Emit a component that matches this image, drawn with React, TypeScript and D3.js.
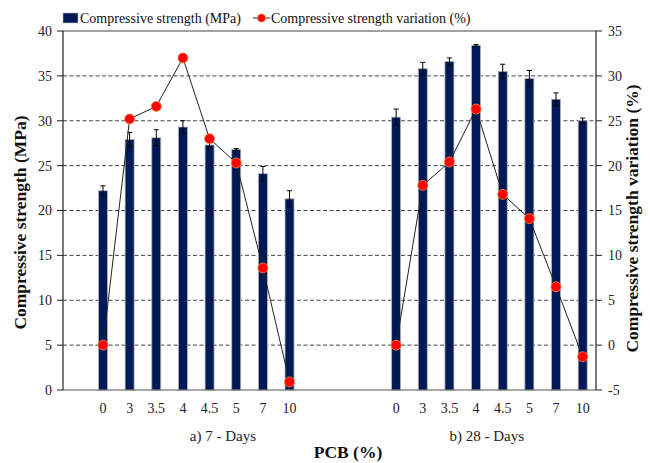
import React from "react";
import * as d3 from "d3";

const categories = ["0", "3", "3.5", "4", "4.5", "5", "7", "10"];
const groupLabels = ["a) 7 - Days", "b) 28 - Days"];
const strength7 = [22.2, 27.9, 28.1, 29.3, 27.3, 26.8, 24.1, 21.3];
const err7 = [0.55, 0.8, 0.9, 0.7, 0.3, 0.1, 0.8, 0.9];
const variation7 = [0, 25.2, 26.6, 32.0, 23.0, 20.3, 8.6, -4.1];
const strength28 = [30.4, 35.8, 36.6, 38.4, 35.5, 34.7, 32.4, 30.0];
const err28 = [0.9, 0.7, 0.4, 0.1, 0.8, 0.9, 0.7, 0.3];
const variation28 = [0, 17.8, 20.4, 26.3, 16.8, 14.1, 6.5, -1.3];
const leftTicks = [0, 5, 10, 15, 20, 25, 30, 35, 40];
const rightTicks = [-5, 0, 5, 10, 15, 20, 25, 30, 35];

const W = 650, H = 463;
const L = 63, R = 596, T = 31, B = 390;
const FONT = "Liberation Serif, Times New Roman, Times, serif";
const BAR = "#001a57";

export default function App() {
  const x = d3.scaleLinear().domain([-1.5, 18.5]).range([L, R]);
  const yL = d3.scaleLinear().domain([0, 40]).range([B, T]);
  const yR = d3.scaleLinear().domain([-5, 35]).range([B, T]);
  const groups = [
    { off: 0, s: strength7, e: err7, v: variation7, labelPos: 4.5 },
    { off: 11, s: strength28, e: err28, v: variation28, labelPos: 14.4 },
  ];
  const bw = 9;
  const ts = { fontFamily: FONT };
  return (
    <svg width={W} height={H} style={{ position: "absolute", left: 0, top: 0, background: "#fff", fontFamily: FONT }}>
      <rect x={0} y={0} width={W} height={H} fill="#fff" />
      {/* gridlines */}
      {leftTicks.filter((t) => t > 0 && t < 40).map((t) => (
        <line key={"g" + t} x1={L} x2={R} y1={yL(t)} y2={yL(t)} stroke="#444" strokeWidth={1} strokeDasharray="4,2.5" />
      ))}
      {/* bars */}
      {groups.map((g, gi) =>
        g.s.map((v, i) => {
          const cx = x(g.off + i);
          return (
            <g key={`b${gi}-${i}`}>
              <rect x={cx - bw / 2} y={yL(v)} width={bw} height={B - yL(v)} fill={BAR} stroke="#b5b5b5" strokeWidth={0.8} />
              <line x1={cx} x2={cx} y1={yL(v + g.e[i])} y2={yL(v - g.e[i])} stroke="#000" strokeWidth={1} />
              <line x1={cx - 2.5} x2={cx + 2.5} y1={yL(v + g.e[i])} y2={yL(v + g.e[i])} stroke="#000" strokeWidth={1} />
              <line x1={cx - 2.5} x2={cx + 2.5} y1={yL(v - g.e[i])} y2={yL(v - g.e[i])} stroke="#000" strokeWidth={1} />
            </g>
          );
        })
      )}
      {/* lines */}
      {groups.map((g, gi) => {
        const ln = d3.line<number>().x((_, i) => x(g.off + i)).y((d) => yR(d));
        return <path key={"l" + gi} d={ln(g.v) || ""} fill="none" stroke="#222" strokeWidth={1} />;
      })}
      {groups.map((g, gi) =>
        g.v.map((v, i) => (
          <circle key={`c${gi}-${i}`} cx={x(g.off + i)} cy={yR(v)} r={5} fill="#ff0000" stroke="#ff8a3c" strokeWidth={0.8} />
        ))
      )}
      {/* frame */}
      <line x1={L} x2={R} y1={T} y2={T} stroke="#444" strokeWidth={1.2} />
      <line x1={L} x2={R} y1={B} y2={B} stroke="#555" strokeWidth={1.2} />
      <line x1={L} x2={L} y1={T} y2={B} stroke="#222" strokeWidth={1.2} />
      <line x1={R} x2={R} y1={T} y2={B} stroke="#222" strokeWidth={1.2} />
      {/* left axis */}
      {leftTicks.map((t) => (
        <g key={"lt" + t}>
          <line x1={L - 6} x2={L} y1={yL(t)} y2={yL(t)} stroke="#222" />
          <text style={ts} x={L - 11} y={yL(t)} dy="0.35em" textAnchor="end" fontSize={14} fill="#222">{t}</text>
        </g>
      ))}
      {/* right axis */}
      {rightTicks.map((t) => (
        <g key={"rt" + t}>
          <line x1={R} x2={R + 6} y1={yR(t)} y2={yR(t)} stroke="#222" />
          <text style={ts} x={R + 12} y={yR(t)} dy="0.35em" textAnchor="start" fontSize={14} fill="#222">{t}</text>
        </g>
      ))}
      {/* x labels */}
      {groups.map((g, gi) =>
        categories.map((c, i) => (
          <text style={ts} key={`xt${gi}-${i}`} x={x(g.off + i)} y={413} textAnchor="middle" fontSize={14} fill="#222">{c}</text>
        ))
      )}
      {groups.map((g, gi) => (
        <text style={ts} key={"gl" + gi} x={x(g.labelPos)} y={441} textAnchor="middle" fontSize={15} fill="#222">{groupLabels[gi]}</text>
      ))}
      <text style={ts} x={348} y={458} textAnchor="middle" fontSize={17.5} fontWeight="bold" fill="#111">PCB (%)</text>
      <text style={ts} transform={`translate(26,${(T + B) / 2 + 12}) rotate(-90)`} textAnchor="middle" fontSize={17.5} fontWeight="bold" fill="#111">Compressive strength (MPa)</text>
      <text style={ts} transform={`translate(638,${(T + B) / 2 + 8}) rotate(-90)`} textAnchor="middle" fontSize={17.5} fontWeight="bold" fill="#111">Compressive strength variation (%)</text>
      {/* legend */}
      <rect x={63} y={13} width={15} height={10} fill={BAR} stroke="#b5b5b5" strokeWidth={0.6} />
      <text style={ts} x={80} y={23} fontSize={14} fill="#111">Compressive strength (MPa)</text>
      <line x1={253} x2={270} y1={18} y2={18} stroke="#222" strokeWidth={1} />
      <circle cx={261.5} cy={18} r={4} fill="#ff0000" stroke="#ff8a3c" strokeWidth={0.6} />
      <text style={ts} x={271} y={23} fontSize={14} fill="#111">Compressive strength variation (%)</text>
    </svg>
  );
}
